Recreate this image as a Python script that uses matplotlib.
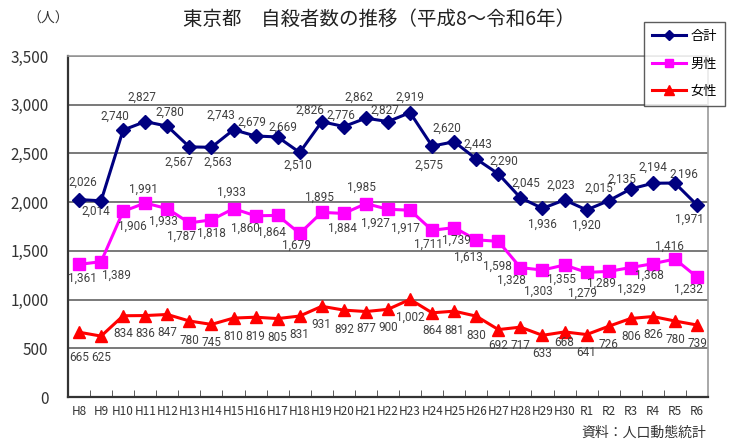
import matplotlib
matplotlib.use("Agg")
import matplotlib.pyplot as plt
import numpy as np

plt.rcParams['font.family'] = ['Noto Sans CJK JP', 'DejaVu Sans']

years = ["H8", "H9", "H10", "H11", "H12", "H13", "H14", "H15", "H16", "H17",
         "H18", "H19", "H20", "H21", "H22", "H23", "H24", "H25", "H26", "H27",
         "H28", "H29", "H30", "R1", "R2", "R3", "R4", "R5", "R6"]

total = [2026, 2014, 2740, 2827, 2780, 2567, 2563, 2743, 2679, 2669,
         2510, 2826, 2776, 2862, 2827, 2919, 2575, 2620, 2443, 2290,
         2045, 1936, 2023, 1920, 2015, 2135, 2194, 2196, 1971]
male = [1361, 1389, 1906, 1991, 1933, 1787, 1818, 1933, 1860, 1864,
        1679, 1895, 1884, 1985, 1927, 1917, 1711, 1739, 1613, 1598,
        1328, 1303, 1355, 1279, 1289, 1329, 1368, 1416, 1232]
female = [665, 625, 834, 836, 847, 780, 745, 810, 819, 805,
          831, 931, 892, 877, 900, 1002, 864, 881, 830, 692,
          717, 633, 668, 641, 726, 806, 826, 780, 739]

# label offsets from the marker, in pixels (dx right, dy down)
total_off = [(4, -17), (-5, 10), (-8, -14), (-3, -24), (3, -14), (-11, 15), (6, 15),
             (-13, -14), (-4, -14), (5, -10), (-2, 13), (-12, -11), (-3, -11),
             (-7, -21), (-3, -11), (0, -15), (-3, 19), (-7, -13), (2, -15), (5, -13),
             (5, -14), (0, 16), (-4, -15), (0, 15), (-10, -12), (-9, -10), (0, -16),
             (9, -9), (-8, 14)]
male_off = [(3, 14), (15, 14), (9, 15), (-2, -14), (-4, 13), (-8, 13), (0, 13),
            (-2, -16), (-10, 12), (-6, 17), (-3, 12), (-2, -15), (-1, 15), (-4, -16),
            (-13, 14), (-5, 18), (-4, 14), (2, 13), (-8, 17), (-1, 25), (-9, 13),
            (-4, 21), (-3, 14), (-4, 21), (-7, 12), (1, 22), (-3, 12), (-5, -13),
            (-9, 12)]
female_dy = [25, 21, 18, 18, 18, 19, 18, 18, 19, 19, 18, 18, 19, 17, 18,
             18, 18, 19, 19, 16, 18, 18, 11, 18, 18, 18, 18, 18, 18]
female_off = [(0, d) for d in female_dy]

fig = plt.figure(figsize=(7.34, 4.47), dpi=100)
ax = fig.add_axes([68/734, 1-397/447, 640/734, 341/447])

x = np.arange(len(years))
ax.plot(x, total, color="#000080", lw=2.2, marker="D", ms=7, label="合計", zorder=4)
ax.plot(x, male, color="#FF00FF", lw=2.2, marker="s", ms=8, label="男性", zorder=3)
ax.plot(x, female, color="#FF0000", lw=2.2, marker="^", ms=9, label="女性", zorder=3)

lab_font = ['Liberation Sans Narrow', 'Roboto', 'DejaVu Sans']


def put_labels(vals, offs):
    for i, (v, (dx, dy)) in enumerate(zip(vals, offs)):
        ax.annotate(f"{v:,}", (i, v), xytext=(dx, -dy), textcoords="offset pixels",
                    ha="center", va="center", fontsize=8.5, color="#404040",
                    family=lab_font)


put_labels(total, total_off)
put_labels(male, male_off)
put_labels(female, female_off)

ax.set_xlim(-0.5, len(years) - 0.5)
ax.set_ylim(0, 3500)
ax.set_yticks(np.arange(0, 3501, 500))
ax.set_yticklabels([f"{t:,}" for t in range(0, 3501, 500)], fontsize=11, color="#333333")
ax.set_xticks(x)
ax.set_xticklabels(years, fontsize=8.5, color="#333333")
ax.set_xticks(np.arange(0.5, len(years) - 1, 1), minor=True)
ax.tick_params(axis="x", which="major", length=0, pad=6)
ax.tick_params(axis="x", which="minor", direction="in", length=5, color="#404040")
ax.tick_params(axis="y", length=0, pad=14)

ax.grid(axis="y", color="#555555", lw=1.1)
ax.set_axisbelow(True)
for s in ["top", "right"]:
    ax.spines[s].set_color("#999999")
    ax.spines[s].set_linewidth(1.2)
for s in ["left", "bottom"]:
    ax.spines[s].set_color("#333333")
    ax.spines[s].set_linewidth(1.6)

fig.text(379/734, 1-19/447, "東京都　自殺者数の推移（平成8～令和6年）",
         ha="center", va="center", fontsize=14, color="#222222")
fig.text(48/734, 1-19/447, "（人）", ha="center", va="center", fontsize=10, color="#333333")
fig.text(706/734, 1-433/447, "資料：人口動態統計", ha="right", va="center",
         fontsize=10, color="#333333")

leg = fig.legend(loc="upper left", bbox_to_anchor=(644/734, 1-22/447), frameon=True,
                 fancybox=False, edgecolor="#333333", fontsize=9.5, labelspacing=1.1,
                 handlelength=2.6, handletextpad=0.3, borderpad=0.6, markerscale=0.8,
                 borderaxespad=0)
leg.get_frame().set_linewidth(1.0)

fig.savefig("out.png", dpi=100)
